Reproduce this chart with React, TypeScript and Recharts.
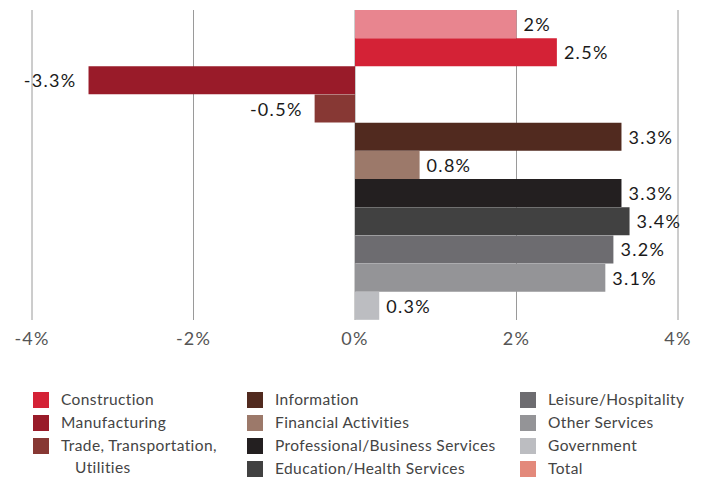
import React from 'react';
import { BarChart, Bar, XAxis, YAxis, CartesianGrid, Cell, LabelList } from 'recharts';

const categories = [
  'Total',
  'Construction',
  'Manufacturing',
  'Trade, Transportation, Utilities',
  'Information',
  'Financial Activities',
  'Professional/Business Services',
  'Education/Health Services',
  'Leisure/Hospitality',
  'Other Services',
  'Government',
];
const growth = [2, 2.5, -3.3, -0.5, 3.3, 0.8, 3.3, 3.4, 3.2, 3.1, 0.3];
const barColors = [
  '#E8858F', '#D42236', '#991B29', '#873834', '#512A1F', '#9C796A',
  '#231F20', '#414141', '#6D6C70', '#949497', '#BCBDC1',
];
const xTicks = [-4, -2, 0, 2, 4];

// legend is laid out in three columns, in the order of the original
const legendColumns = [
  ['Construction', 'Manufacturing', 'Trade, Transportation, Utilities'],
  ['Information', 'Financial Activities', 'Professional/Business Services', 'Education/Health Services'],
  ['Leisure/Hospitality', 'Other Services', 'Government', 'Total'],
];
const legendSwatch: Record<string, string> = { Total: '#E3897B' };

const FONT = 'Lato, "Open Sans", sans-serif';

const data = categories.map((name, i) => ({ name, value: growth[i], color: barColors[i] }));

const ValueLabel = (props: any) => {
  const { x, y, width, height, value } = props;
  const left = Math.min(x, x + width);
  const right = Math.max(x, x + width);
  const neg = value < 0;
  return (
    <text
      x={neg ? left - 12 : right + 7}
      y={y + height / 2}
      textAnchor={neg ? 'end' : 'start'}
      dominantBaseline="central"
      fill="#1a1a1a"
      fontSize={18}
      fontFamily={FONT}
      letterSpacing={1.3}
    >
      {`${value}%`}
    </text>
  );
};

const LegendItem: React.FC<{ label: string }> = ({ label }) => {
  const idx = categories.indexOf(label);
  const color = legendSwatch[label] ?? barColors[idx];
  const parts = label === 'Trade, Transportation, Utilities' ? ['Trade, Transportation,', 'Utilities'] : [label];
  return (
    <div style={{ display: 'flex', alignItems: 'flex-start', height: parts.length * 23 }}>
      <div style={{ width: 16, height: 16, background: color, marginTop: 3, marginRight: 12, flexShrink: 0 }} />
      <div>
        {parts.map((p, j) => (
          <div key={p} style={{ lineHeight: '23px', height: 23, paddingLeft: j > 0 ? 14 : 0, marginTop: -1 }}>
            {p}
          </div>
        ))}
      </div>
    </div>
  );
};

export default function App() {
  return (
    <div style={{ position: 'absolute', left: 0, top: 0, width: 704, height: 479, background: '#fff' }}>
      <BarChart
        width={704}
        height={479}
        data={data}
        layout="vertical"
        barCategoryGap={0}
        margin={{ top: 10, right: 26, left: 32, bottom: 129 }}
      >
        <CartesianGrid horizontal={false} stroke="#9a9a9a" strokeWidth={1} />
        <XAxis
          type="number"
          domain={[-4, 4]}
          ticks={xTicks}
          tickFormatter={(v: number) => `${v}%`}
          axisLine={false}
          tickLine={false}
          tickMargin={6}
          height={30}
          tick={{ fill: '#555', fontSize: 18, fontFamily: FONT, letterSpacing: 1.2 }}
        />
        <YAxis type="category" dataKey="name" hide />
        <Bar dataKey="value" isAnimationActive={false}>
          {data.map((d) => (
            <Cell key={d.name} fill={d.color} />
          ))}
          <LabelList dataKey="value" content={ValueLabel} />
        </Bar>
      </BarChart>
      <div
        style={{
          position: 'absolute',
          top: 389,
          left: 33,
          display: 'flex',
          fontFamily: FONT,
          fontSize: 15.5,
          letterSpacing: 0.4,
          color: '#444',
        }}
      >
        {legendColumns.map((col, c) => (
          <div key={c} style={{ width: c === 0 ? 214 : 273 }}>
            {col.map((label) => (
              <LegendItem key={label} label={label} />
            ))}
          </div>
        ))}
      </div>
    </div>
  );
}
